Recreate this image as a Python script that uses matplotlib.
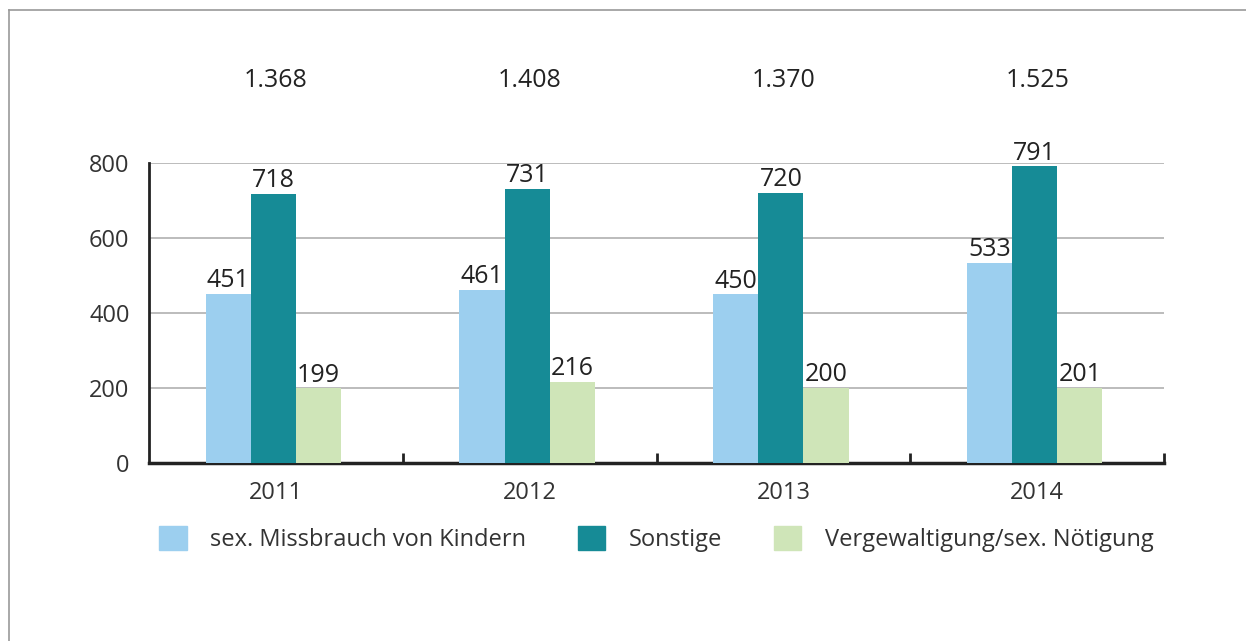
import matplotlib.pyplot as plt
import numpy as np
from matplotlib.patches import Patch
from matplotlib.lines import Line2D

# data
years = ["2011", "2012", "2013", "2014"]
kinder = [451, 461, 450, 533]
sonstige = [718, 731, 720, 791]
vergewaltigung = [199, 216, 200, 201]
totals = ["1.368", "1.408", "1.370", "1.525"]

series_names = ["sex. Missbrauch von Kindern", "Sonstige", "Vergewaltigung/sex. Nötigung"]
colors = ["#9ccfef", "#168b96", "#cfe5b8"]

plt.rcParams['font.family'] = ['Open Sans', 'DejaVu Sans']

fig = plt.figure(figsize=(12.46, 6.41), dpi=100)
ax = fig.add_axes([0.1196, 0.2777, 0.8146, 0.468])

x = np.arange(len(years))
w = 0.178
series = [kinder, sonstige, vergewaltigung]
for i, vals in enumerate(series):
    pos = x + (i - 1) * w - 0.01
    bars = ax.bar(pos, vals, width=w, color=colors[i], zorder=3)
    for b, v in zip(bars, vals):
        ax.text(b.get_x() + b.get_width() / 2, v + 2, str(v), ha='center', va='bottom',
                fontsize=18, color='#222222', zorder=4)

# totals above the groups
for xi, t in zip(x, totals):
    ax.text(xi, 1020, t, ha='center', va='center', fontsize=18, color='#222222', clip_on=False)

ax.set_xlim(-0.5, 3.5)
ax.set_ylim(0, 800)
ax.set_yticks([0, 200, 400, 600, 800])
ax.yaxis.grid(True, color='#b0b0b0', linewidth=1.2, zorder=0)
ax.set_xticks(x)
ax.set_xticklabels(years)
ax.set_xticks([0.5, 1.5, 2.5, 3.5], minor=True)
ax.tick_params(axis='x', which='major', length=0, pad=13, labelsize=17, labelcolor='#333333')
ax.tick_params(axis='x', which='minor', direction='in', length=7, width=2, color='#222222')
ax.tick_params(axis='y', length=0, pad=14, labelsize=17, labelcolor='#333333')

for s in ['top', 'right']:
    ax.spines[s].set_visible(False)
ax.spines['left'].set_linewidth(2)
ax.spines['bottom'].set_linewidth(2.5)
ax.spines['left'].set_color('#222222')
ax.spines['bottom'].set_color('#222222')

handles = [Patch(color=c, label=n) for c, n in zip(colors, series_names)]
fig.legend(handles=handles, loc='center', bbox_to_anchor=(0.527, 0.159), ncol=3, frameon=False,
           fontsize=17, handlelength=1.15, handleheight=1.2, handletextpad=1.0, columnspacing=2.2,
           labelcolor='#333333')

# frame lines at top and left of the picture
fig.add_artist(Line2D([0.0072, 1.0], [0.984, 0.984], color='#999999', linewidth=1.2))
fig.add_artist(Line2D([0.0072, 0.0072], [0.0, 0.984], color='#999999', linewidth=1.2))

fig.savefig("out.png", dpi=100)
